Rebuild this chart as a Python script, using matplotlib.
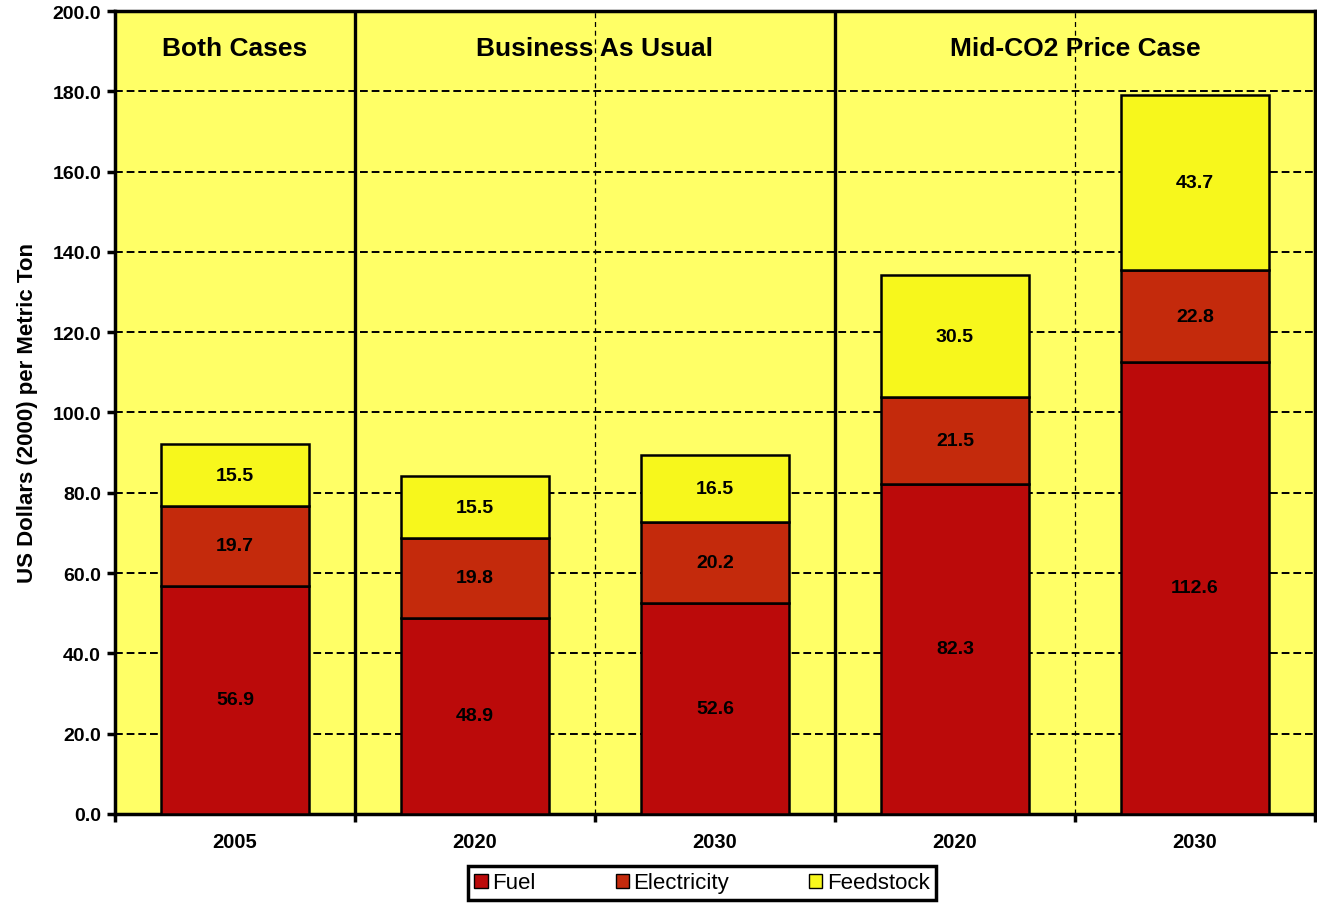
import numpy as np
import matplotlib.pyplot as plt
from matplotlib.patches import Patch

plt.rcParams['font.family'] = ['Liberation Sans', 'DejaVu Sans']

# Dados
anos = ['2005', '2020', '2030', '2020', '2030']
combustivel = [56.9, 48.9, 52.6, 82.3, 112.6]
eletricidade = [19.7, 19.8, 20.2, 21.5, 22.8]
materia_prima = [15.5, 15.5, 16.5, 30.5, 43.7]
cenarios = ['Both Cases', 'Business As Usual', 'Mid-CO2 Price Case']
cenario_centros = [0, 1.5, 3.5]

cor_fuel = '#BB0A0A'
cor_elec = '#C42A0C'
cor_feed = '#F7F71C'
cor_fundo = '#FFFF66'

fig = plt.figure(figsize=(13.17, 9.04), dpi=100)
ax = fig.add_axes([0.0873, 0.0985, 0.9112, 0.8882])
ax.set_facecolor(cor_fundo)

x = np.arange(len(anos))
largura = 0.62
base2 = np.array(combustivel)
base3 = base2 + np.array(eletricidade)

ax.bar(x, combustivel, width=largura, color=cor_fuel, edgecolor='black', linewidth=1.8, zorder=3)
ax.bar(x, eletricidade, width=largura, bottom=base2, color=cor_elec, edgecolor='black', linewidth=1.8, zorder=3)
ax.bar(x, materia_prima, width=largura, bottom=base3, color=cor_feed, edgecolor='black', linewidth=1.8, zorder=3)

# Rotulos dentro das barras
for i in range(len(anos)):
    ax.text(x[i], combustivel[i] / 2, f'{combustivel[i]:.1f}', ha='center', va='center',
            fontsize=14, fontweight='bold', zorder=4)
    ax.text(x[i], base2[i] + eletricidade[i] / 2, f'{eletricidade[i]:.1f}', ha='center', va='center',
            fontsize=14, fontweight='bold', zorder=4)
    ax.text(x[i], base3[i] + materia_prima[i] / 2, f'{materia_prima[i]:.1f}', ha='center', va='center',
            fontsize=14, fontweight='bold', zorder=4)

# Grade horizontal tracejada
ax.set_ylim(0, 200)
ax.set_yticks(np.arange(0, 201, 20))
ax.set_yticklabels([f'{v:.1f}' for v in np.arange(0, 201, 20)], fontsize=14, fontweight='bold')
for v in np.arange(20, 200, 20):
    ax.axhline(v, color='black', linestyle=(0, (4, 2)), linewidth=1.4, zorder=1)

# Divisores verticais
ax.axvline(0.5, color='black', linewidth=2.4, zorder=2)
ax.axvline(2.5, color='black', linewidth=2.4, zorder=2)
ax.axvline(1.5, color='black', linestyle=(0, (4, 3)), linewidth=0.9, zorder=2)
ax.axvline(3.5, color='black', linestyle=(0, (4, 3)), linewidth=0.9, zorder=2)

for c, nome in zip(cenario_centros, cenarios):
    ax.text(c, 190.8, nome, ha='center', va='center', fontsize=19, fontweight='bold', zorder=4)

ax.set_xlim(-0.5, 4.5)
ax.set_xticks(x)
ax.set_xticklabels(anos, fontsize=14.5, fontweight='bold')
ax.tick_params(axis='x', length=0, pad=13)
ax.set_xticks(np.arange(-0.5, 4.6, 1), minor=True)
ax.tick_params(axis='x', which='minor', length=6, width=2.5, direction='out')
ax.tick_params(axis='y', length=6, width=2.5, direction='out', pad=4)

for s in ax.spines.values():
    s.set_linewidth(2.5)

ax.set_ylabel('US Dollars (2000) per Metric Ton', fontsize=16, fontweight='bold', labelpad=10)

handles = [Patch(facecolor=cor_fuel, edgecolor='black', label='Fuel'),
           Patch(facecolor=cor_elec, edgecolor='black', label='Electricity'),
           Patch(facecolor=cor_feed, edgecolor='black', label='Feedstock')]
leg = fig.legend(handles=handles, loc='center', bbox_to_anchor=(702 / 1317, 1 - 884 / 904), ncol=3,
                 fontsize=16, frameon=True, fancybox=False, edgecolor='black',
                 handlelength=0.6, handleheight=0.6, handletextpad=0.2, columnspacing=3.6,
                 borderpad=0.3, borderaxespad=0)
leg.get_frame().set_linewidth(2.5)
leg.get_frame().set_alpha(1)

fig.savefig('out.png', dpi=100)
